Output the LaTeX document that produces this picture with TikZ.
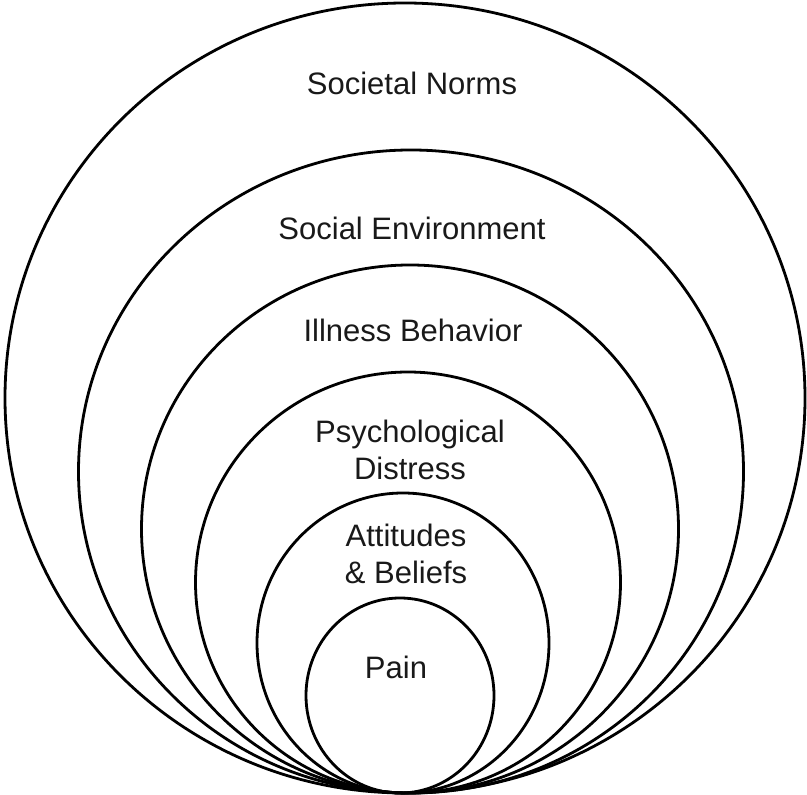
\documentclass[tikz,border=0pt]{standalone}
\usepackage{fontspec}
\setmainfont{Liberation Sans}
\usetikzlibrary{shapes}
\tikzset{ring/.style={draw,ellipse,line width=2.8bp,inner sep=0pt},
  lbl/.style={font=\fontsize{31bp}{37bp}\selectfont,align=center,text=black!90}}

\begin{document}
\begin{tikzpicture}[line join=bevel,]
\useasboundingbox (0bp,0bp) rectangle (807bp,795bp);
%%
\node (norms) at (405.0bp,397.0bp) [ring,minimum width=800bp,minimum height=790bp] {};
  \node (social) at (411.0bp,323.5bp) [ring,minimum width=665bp,minimum height=643bp] {};
  \node (illness) at (410.0bp,266.0bp) [ring,minimum width=537bp,minimum height=528bp] {};
  \node (distress) at (408.0bp,212.5bp) [ring,minimum width=425bp,minimum height=421bp] {};
  \node (beliefs) at (403.0bp,152.0bp) [ring,minimum width=292bp,minimum height=300bp] {};
  \node (pain) at (400.0bp,99.5bp) [ring,minimum width=188bp,minimum height=195bp] {};
%
\node (normstxt) at (412.0bp,712.0bp) [lbl] {Societal Norms};
  \node (socialtxt) at (412.0bp,567.0bp) [lbl] {Social Environment};
  \node (illnesstxt) at (413.0bp,465.0bp) [lbl] {Illness Behavior};
  \node (distresstxt) at (410.0bp,345.0bp) [lbl] {Psychological\\Distress};
  \node (beliefstxt) at (406.0bp,241.0bp) [lbl] {Attitudes\\\& Beliefs};
  \node (paintxt) at (396.0bp,128.0bp) [lbl] {Pain};
%
\end{tikzpicture}
\end{document}
